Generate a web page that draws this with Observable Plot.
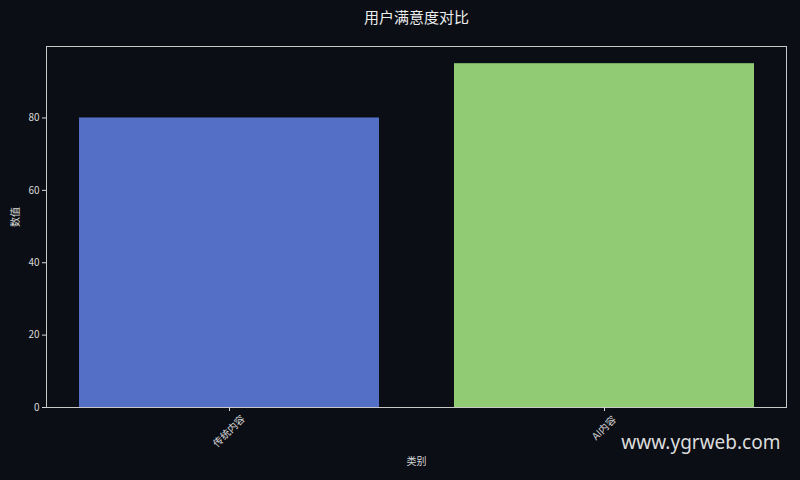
<!DOCTYPE html>
<html>
<head>
<meta charset="utf-8">
<script src="https://cdn.jsdelivr.net/npm/d3@7"></script>
<script src="https://cdn.jsdelivr.net/npm/@observablehq/plot@0.6"></script>
<style>
  html, body { margin: 0; padding: 0; background: #0b0e14; }
  #chart { width: 800px; height: 480px; }
</style>
</head>
<body>
<div id="chart"></div>
<script>
const categories = ["传统内容", "AI内容"];
const values = [80, 95];
const colors = ["#5470c6", "#91cc75"];
const yTicks = [0, 20, 40, 60, 80];
const title = "用户满意度对比";
const xLabel = "类别";
const yLabel = "数值";
const watermark = "www.ygrweb.com";

const data = categories.map((c, i) => ({category: c, value: values[i], color: colors[i]}));
const font = "'Noto Sans CJK SC', 'Noto Sans', 'DejaVu Sans', sans-serif";

const chart = Plot.plot({
  width: 800,
  height: 480,
  marginTop: 46,
  marginBottom: 73,
  marginLeft: 46,
  marginRight: 14,
  style: {background: "#0b0e14", color: "#d8d8d8", fontFamily: font, fontSize: "10px"},
  x: {type: "band", domain: categories, paddingInner: 0.2, paddingOuter: 0.085, align: 0.5},
  y: {domain: [0, 99.75]},
  marks: [
    Plot.barY(data, {x: "category", y: "value", fill: "color"}),
    Plot.frame({stroke: "#c8c8c8", strokeWidth: 1}),
    Plot.axisY({ticks: yTicks, tickSize: 4, tickPadding: 3, label: null, fontSize: 10}),
    Plot.axisX({ticks: categories, tickSize: 4, tickFormat: () => "", label: null}),
    Plot.text([yLabel], {frameAnchor: "left", dx: -31, rotate: -90, text: d => d, fontSize: 10, fill: "#d8d8d8"}),
    Plot.text([xLabel], {frameAnchor: "bottom", dy: 57, text: d => d, fontSize: 10, fill: "#d8d8d8"}),
    Plot.text([data[0]], {x: "category", frameAnchor: "bottom", dy: 26, dx: 2, rotate: -45, text: "category", fontSize: 10, fill: "#d8d8d8"}),
    Plot.text([data[1]], {x: "category", frameAnchor: "bottom", dy: 23, dx: 2, rotate: -45, text: "category", fontSize: 10, fill: "#d8d8d8"}),
    Plot.text([title], {frameAnchor: "top", text: d => d, fontSize: 15, fill: "#ececec", lineAnchor: "middle", dy: -28}),
    Plot.text([watermark], {frameAnchor: "bottom-right", dx: -6, dy: 41, textAnchor: "end", text: d => d, fontSize: 19, fill: "#dcdcdc", fontFamily: "'Noto Sans', 'Open Sans', sans-serif"})
  ]
});
document.getElementById("chart").appendChild(chart);
</script>
</body>
</html>
